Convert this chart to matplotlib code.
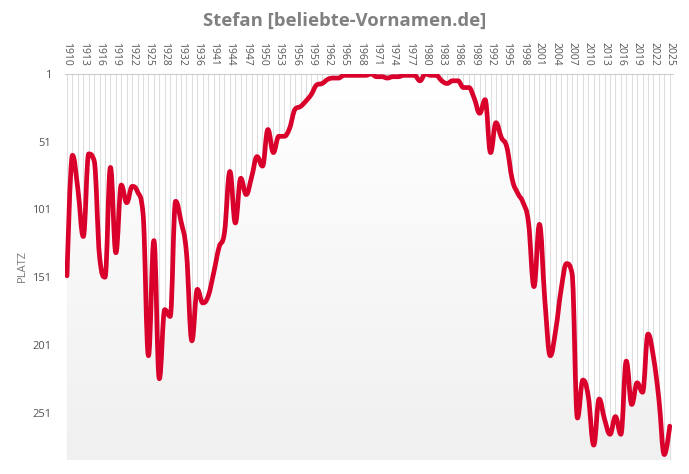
import numpy as np
import matplotlib
matplotlib.use('Agg')
import matplotlib.pyplot as plt
from matplotlib.path import Path
from matplotlib.patches import PathPatch
from matplotlib.colors import LinearSegmentedColormap

# Jahre (einige Kriegsjahre fehlen in der Quelle)
years = list(range(1910, 1930)) + [1931, 1932, 1933, 1935, 1936, 1937, 1940] + list(range(1941, 2026))

# Platz pro Jahr
ranks = [150, 61, 86, 121, 60, 65, 136, 151, 70, 133,
         83, 96, 84, 88, 104, 209, 124, 226, 175, 180,
         95, 110, 133, 198, 160, 170, 165, 148, 129, 118,
         73, 111, 78, 90, 77, 62, 69, 42, 59, 47,
         47, 41, 27, 25, 21, 16, 9, 8, 5, 4,
         4, 2, 2, 2, 2, 2, 1, 3, 3, 4,
         3, 3, 2, 2, 2, 6, 1, 2, 2, 6,
         8, 6, 6, 11, 11, 19, 30, 20, 59, 37,
         48, 55, 79, 89, 96, 111, 158, 112, 168, 209,
         190, 160, 141, 148, 255, 227, 239, 275, 241, 256,
         267, 254, 267, 213, 245, 229, 236, 193, 210, 241,
         282, 261]

yticks = [1, 51, 101, 151, 201, 251]
y_bottom = 286


def spline_path(xs, ys, smoothing=1.5):
    # Highcharts-artige Spline-Kontrollpunkte
    n = len(xs)
    denom = smoothing + 1
    lc = [None] * n
    rc = [None] * n
    for i in range(1, n - 1):
        px, py = xs[i], ys[i]
        lx, ly = xs[i - 1], ys[i - 1]
        nx, ny = xs[i + 1], ys[i + 1]
        lcx = (smoothing * px + lx) / denom
        lcy = (smoothing * py + ly) / denom
        rcx = (smoothing * px + nx) / denom
        rcy = (smoothing * py + ny) / denom
        if rcx != lcx:
            corr = (rcy - lcy) * (rcx - px) / (rcx - lcx) + py - rcy
            lcy += corr
            rcy += corr
            if lcy > ly and lcy > py:
                lcy = max(ly, py)
                rcy = 2 * py - lcy
            elif lcy < ly and lcy < py:
                lcy = min(ly, py)
                rcy = 2 * py - lcy
            if rcy > ny and rcy > py:
                rcy = max(ny, py)
                lcy = 2 * py - rcy
            elif rcy < ny and rcy < py:
                rcy = min(ny, py)
                lcy = 2 * py - rcy
        lc[i] = (lcx, lcy)
        rc[i] = (rcx, rcy)
    verts = [(xs[0], ys[0])]
    codes = [Path.MOVETO]
    for i in range(1, n):
        c1 = rc[i - 1] if rc[i - 1] is not None else (xs[i - 1], ys[i - 1])
        c2 = lc[i] if lc[i] is not None else (xs[i], ys[i])
        verts += [c1, c2, (xs[i], ys[i])]
        codes += [Path.CURVE4] * 3
    return verts, codes


x = np.arange(len(years))
verts, codes = spline_path(list(x.astype(float)), [float(r) for r in ranks])

fig = plt.figure(figsize=(6.89, 4.74), dpi=100)
ax = fig.add_axes([65 / 689, 14 / 474, 608 / 689, 386 / 474])

xlim = (-0.37, len(years) - 1 + 0.6)

# Gitterlinien
ax.vlines(x, 1, y_bottom, color='#dedede', lw=0.8, zorder=0.5)

# Flaeche unter der Kurve mit Verlauf
area_verts = verts + [(x[-1], y_bottom), (x[0], y_bottom), (x[0], ranks[0])]
area_codes = codes + [Path.LINETO, Path.LINETO, Path.CLOSEPOLY]
area = PathPatch(Path(area_verts, area_codes), facecolor='none', edgecolor='none')
ax.add_patch(area)
cmap = LinearSegmentedColormap.from_list('grad', ['#ffffff', '#f0f0f0'])
grad = np.linspace(0, 1, 256).reshape(-1, 1)
im = ax.imshow(grad, cmap=cmap, aspect='auto', origin='upper',
               extent=(xlim[0], xlim[1], y_bottom, 1), zorder=1)
im.set_clip_path(area)

line = PathPatch(Path(verts, codes), facecolor='none', edgecolor='#d9002b',
                 lw=3.4, capstyle='round', joinstyle='round', zorder=3)
ax.add_patch(line)

ax.set_xlim(*xlim)
ax.set_ylim(y_bottom, 1)

ax.xaxis.tick_top()
ax.set_xticks(x[::3])
ax.set_xticklabels([str(y) for y in years[::3]], rotation=-90, fontsize=7.5,
                   color='#555555', family='Open Sans')
ax.set_yticks(yticks)
ax.set_yticklabels([str(t) for t in yticks], fontsize=8, color='#555555', family='Open Sans')
ax.tick_params(axis='x', length=0, pad=6)
ax.tick_params(axis='y', length=0, pad=10)

for s in ['left', 'right', 'bottom']:
    ax.spines[s].set_visible(False)
ax.spines['top'].set_color('#cccccc')
ax.spines['top'].set_linewidth(0.8)

fig.text(22 / 689, 1 - 266 / 474, 'PLATZ', rotation=90, ha='center', va='center',
         fontsize=8, color='#777777', family='Open Sans')
fig.text(0.5, 1 - 21 / 474, 'Stefan [beliebte-Vornamen.de]', ha='center', va='center',
         fontsize=13.3, fontweight='bold', color='#808080', family='Open Sans')

fig.savefig('out.png', dpi=100)
